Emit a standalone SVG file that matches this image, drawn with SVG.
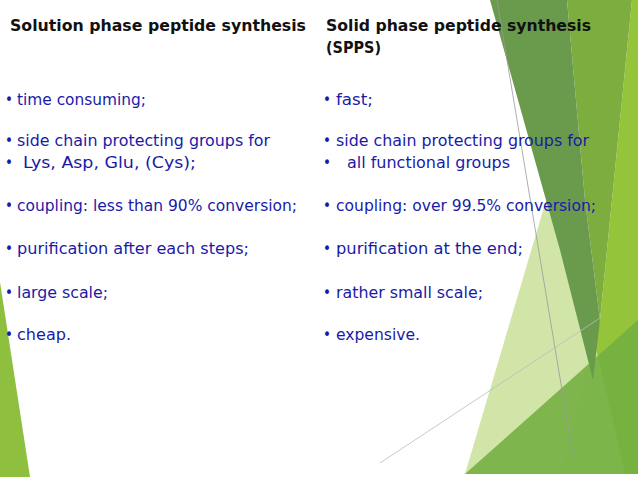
<svg xmlns="http://www.w3.org/2000/svg" width="638" height="479" viewBox="0 0 638 479">
<style>
.h{font-family:"DejaVu Sans Condensed","DejaVu Sans",sans-serif;font-weight:bold;font-size:15px;fill:#111}
.b{font-family:"DejaVu Sans Condensed","DejaVu Sans",sans-serif;font-size:15px;fill:#1a1aa8}
</style>
<rect width="638" height="479" fill="#fff"/>
<g id="decor">
<polygon points="0,282 30,477 0,477" fill="#8fbf3e"/>
<polygon points="632,0 638,0 638,474 560,474 600,320" fill="#93c43a"/>
<polygon points="555,170 465,474 625,474" fill="#c9e09a" opacity="0.85"/>
<polygon points="465,474 638,320 638,474" fill="#74b043" opacity="0.9"/>
<polygon points="567,0 632,0 600,320 585,200" fill="#7dad3f"/>
<polygon points="490,0 567,0 585,200 600,320 593,380 560,250" fill="#6a9a4c"/>
<line x1="497" y1="0" x2="574" y2="462" stroke="#999" stroke-width="0.8"/>
<line x1="380" y1="463" x2="600" y2="318" stroke="#bbb" stroke-width="0.8"/>
</g>
<g id="left">
<text class="h" x="10" y="31" textLength="296" lengthAdjust="spacingAndGlyphs">Solution phase peptide synthesis</text>
<text class="b" x="5" y="105">•</text><text class="b" x="17" y="105" textLength="129" lengthAdjust="spacingAndGlyphs">time consuming;</text>
<text class="b" x="5" y="146">•</text><text class="b" x="17" y="146" textLength="253" lengthAdjust="spacingAndGlyphs">side chain protecting groups for</text>
<text class="b" x="5" y="168">•</text><text class="b" x="23" y="168" textLength="173" lengthAdjust="spacingAndGlyphs">Lys, Asp, Glu, (Cys);</text>
<text class="b" x="5" y="211">•</text><text class="b" x="17" y="211" textLength="280" lengthAdjust="spacingAndGlyphs">coupling: less than 90% conversion;</text>
<text class="b" x="5" y="254">•</text><text class="b" x="17" y="254" textLength="232" lengthAdjust="spacingAndGlyphs">purification after each steps;</text>
<text class="b" x="5" y="298">•</text><text class="b" x="17" y="298" textLength="91" lengthAdjust="spacingAndGlyphs">large scale;</text>
<text class="b" x="5" y="340">•</text><text class="b" x="17" y="340" textLength="54" lengthAdjust="spacingAndGlyphs">cheap.</text>
</g>
<g id="right">
<text class="h" x="326" y="31" textLength="265" lengthAdjust="spacingAndGlyphs">Solid phase peptide synthesis</text>
<text class="h" x="326" y="53" textLength="55" lengthAdjust="spacingAndGlyphs">(SPPS)</text>
<text class="b" x="323" y="105">•</text><text class="b" x="336" y="105" textLength="37" lengthAdjust="spacingAndGlyphs">fast;</text>
<text class="b" x="323" y="146">•</text><text class="b" x="336" y="146" textLength="253" lengthAdjust="spacingAndGlyphs">side chain protecting groups for</text>
<text class="b" x="323" y="168">•</text><text class="b" x="347" y="168" textLength="163" lengthAdjust="spacingAndGlyphs">all functional groups</text>
<text class="b" x="323" y="211">•</text><text class="b" x="336" y="211" textLength="260" lengthAdjust="spacingAndGlyphs">coupling: over 99.5% conversion;</text>
<text class="b" x="323" y="254">•</text><text class="b" x="336" y="254" textLength="187" lengthAdjust="spacingAndGlyphs">purification at the end;</text>
<text class="b" x="323" y="298">•</text><text class="b" x="336" y="298" textLength="147" lengthAdjust="spacingAndGlyphs">rather small scale;</text>
<text class="b" x="323" y="340">•</text><text class="b" x="336" y="340" textLength="84" lengthAdjust="spacingAndGlyphs">expensive.</text>
</g>
</svg>
